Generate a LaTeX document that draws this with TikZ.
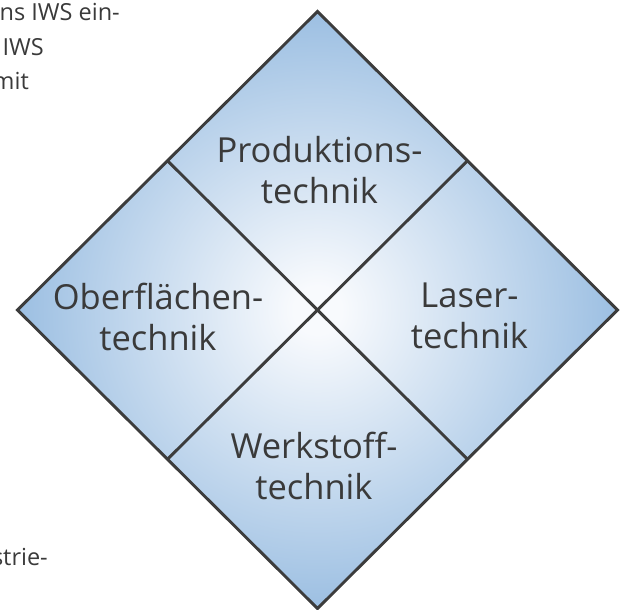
\documentclass[tikz,border=0pt]{standalone}
\usepackage{fontspec}
\setmainfont{Open Sans}
\usetikzlibrary{calc}
\definecolor{edgegray}{HTML}{3C3C3C}
\definecolor{textgray}{HTML}{3A3A3A}
\definecolor{fieldblue}{HTML}{9CBFE2}
\definecolor{fieldwhite}{HTML}{F8FAFD}
\pgfdeclareradialshading{fieldglow}{\pgfpoint{0bp}{0bp}}{%
  color(0bp)=(fieldwhite); color(2bp)=(fieldwhite);
  color(25bp)=(fieldblue); color(50bp)=(fieldblue)}
\tikzset{
  edge/.style={draw=edgegray, line width=2.9pt, line join=miter},
  % anchor=base sits on the baseline of the last line
  field/.style={text=textgray, font=\fontsize{34.5}{41}\selectfont,
    align=center, inner sep=0pt, anchor=base},
  margintext/.style={text=textgray, font=\fontsize{23.5}{34.5}\selectfont,
    inner sep=0pt}
}
\begin{document}
\begin{tikzpicture}[x=1pt,y=-1pt]
\useasboundingbox (0,0) rectangle (625,610);

% running text of the page beside the figure
\begin{scope}
\clip (0,0) rectangle (625,610);
\node[margintext, anchor=base east] (t1) at (120,20.7) {ns IWS ein-};
\node[margintext, anchor=base east] (t2) at (44,55.2) {IWS};
\node[margintext, anchor=base east] (t3) at (29,89.7) {mit};
\node[margintext, anchor=base east] (t4) at (48,565.7) {strie-};
\end{scope}

% outer square standing on its tip
\coordinate (T) at (317.5,11.5);
\coordinate (R) at (617.5,310);
\coordinate (B) at (317.5,608.5);
\coordinate (L) at (17.5,310);
\coordinate (TL) at ($(T)!0.5!(L)$);
\coordinate (TR) at ($(T)!0.5!(R)$);
\coordinate (BL) at ($(B)!0.5!(L)$);
\coordinate (BR) at ($(B)!0.5!(R)$);

\path[shading=fieldglow] (T) -- (R) -- (B) -- (L) -- cycle;
\draw[edge] (TL) -- (BR);
\draw[edge] (TR) -- (BL);
\draw[edge] (T) -- (R) -- (B) -- (L) -- cycle;

% the four fields
\node[field] (prod) at (319.5,203.5) {Produktions-\\technik};
\node[field] (surf) at (158,350) {Oberflächen-\\technik};
\node[field] (laser) at (469.5,348.5) {Laser-\\technik};
\node[field] (mat) at (314,499.5) {Werkstoff-\\technik};
\end{tikzpicture}
\end{document}
